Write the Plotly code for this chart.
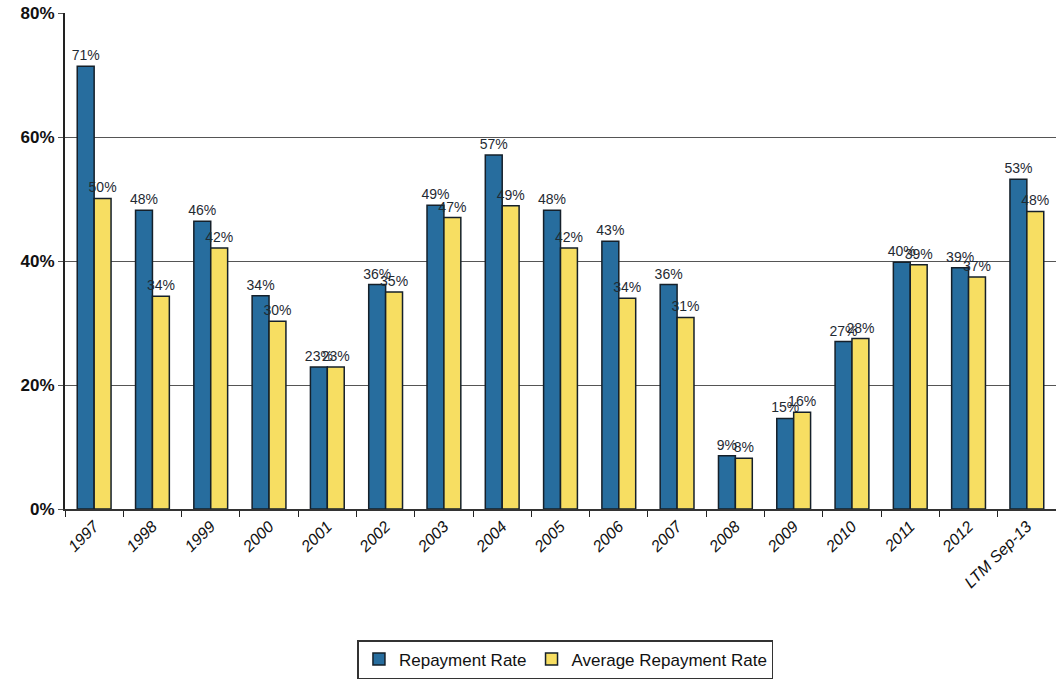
import plotly.graph_objects as go

categories = ["1997", "1998", "1999", "2000", "2001", "2002", "2003", "2004", "2005",
              "2006", "2007", "2008", "2009", "2010", "2011", "2012", "LTM Sep-13"]
repayment_rate = [71.4, 48.2, 46.4, 34.4, 22.9, 36.2, 49.0, 57.1, 48.2, 43.2, 36.2, 8.6, 14.6, 27.0, 39.8, 38.9, 53.2]
average_rate = [50.1, 34.3, 42.1, 30.3, 22.9, 35.0, 47.0, 48.9, 42.1, 34.0, 30.9, 8.2, 15.6, 27.5, 39.4, 37.4, 48.0]

blue = "#276d9e"
yellow = "#f7de62"
label_font = dict(family="Liberation Sans, Arial", size=14, color="#1f2a33")

def labels(vals):
    return [f"{round(v):.0f}%" for v in vals]

fig = go.Figure()
fig.add_trace(go.Bar(
    x=categories, y=repayment_rate, name="Repayment Rate",
    marker=dict(color=blue, line=dict(color="#15202a", width=1.5)),
    text=labels(repayment_rate), textposition="outside", textfont=label_font,
    cliponaxis=False,
))
fig.add_trace(go.Bar(
    x=categories, y=average_rate, name="Average Repayment Rate",
    marker=dict(color=yellow, line=dict(color="#15202a", width=1.5)),
    text=labels(average_rate), textposition="outside", textfont=label_font,
    cliponaxis=False,
))

fig.update_layout(
    width=1056, height=679,
    margin=dict(l=65, r=0, t=13, b=169),
    paper_bgcolor="white", plot_bgcolor="white",
    barmode="group", bargap=0.42, bargroupgap=0.0,
    font=dict(family="Liberation Sans, Arial", color="#111111"),
    uniformtext=dict(mode="show", minsize=14),
    xaxis=dict(
        type="category", range=[-0.5, 16.5],
        tickangle=-45, tickson="boundaries", ticks="outside", ticklen=6,
        tickcolor="#222222", tickfont=dict(size=16, family="Liberation Sans, Arial", color="#111111",
                                             style="italic"),
        showline=True, linecolor="#333333", linewidth=1.5, showgrid=False,
    ),
    yaxis=dict(
        range=[0, 80], tickvals=[0, 20, 40, 60, 80],
        ticktext=["0%", "20%", "40%", "60%", "80%"],
        showgrid=True, gridcolor="#555555", gridwidth=1.2,
        showline=True, linecolor="#222222", linewidth=2,
        ticks="outside", ticklen=5, tickcolor="#555555",
        tickfont=dict(size=17, family="Liberation Sans, Arial", color="#111111", weight="bold"),
        zeroline=False,
    ),
    legend=dict(
        orientation="h", x=0.505, xanchor="center", y=-0.304, yanchor="middle",
        bordercolor="#333333", borderwidth=1.5, bgcolor="white",
        font=dict(size=17, family="Liberation Sans, Arial", color="#111111"),
        itemwidth=30, traceorder="normal",
    ),
)

fig.write_html("out.html")
